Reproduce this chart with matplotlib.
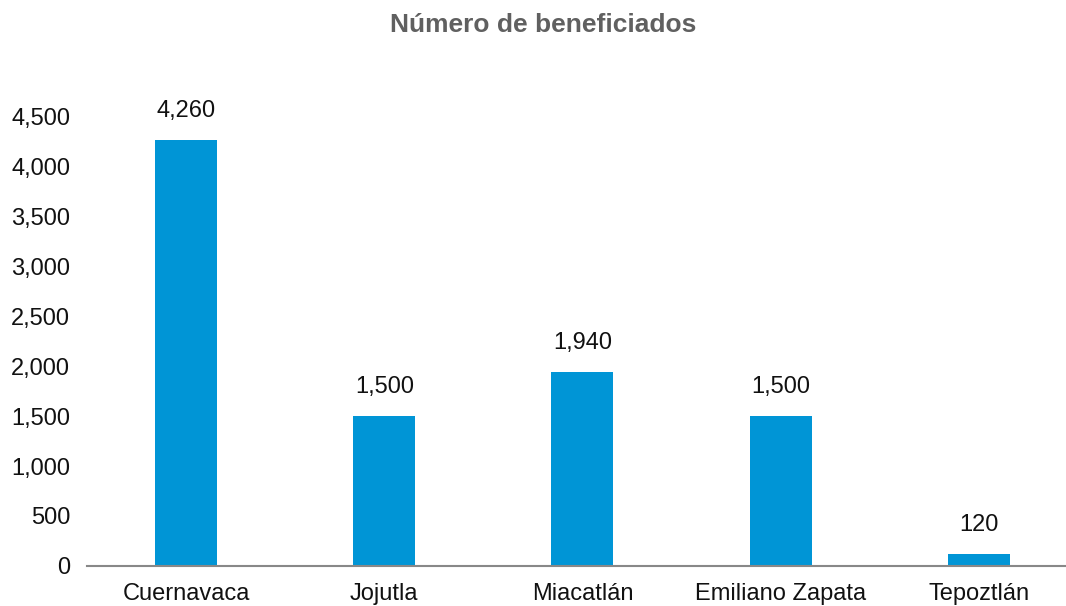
import matplotlib
matplotlib.use("Agg")
import matplotlib.pyplot as plt
from matplotlib.ticker import FuncFormatter

municipios = ["Cuernavaca", "Jojutla", "Miacatlán", "Emiliano Zapata", "Tepoztlán"]
beneficiados = [4260, 1500, 1940, 1500, 120]
yticks = [0, 500, 1000, 1500, 2000, 2500, 3000, 3500, 4000, 4500]

plt.rcParams['font.family'] = ['Liberation Sans', 'DejaVu Sans']

fig = plt.figure(figsize=(10.66, 6.06), dpi=100)
ax = fig.add_axes([87/1066, 1-566/606, (1066-87)/1066, (566-116)/606])

x = range(len(municipios))
bars = ax.bar(x, beneficiados, width=0.313, color="#0095d6")
for b, v in zip(bars, beneficiados):
    ax.annotate(f"{v:,}", (b.get_x() + b.get_width()/2, v), xytext=(0, 13),
                textcoords="offset points", ha="center", va="bottom",
                fontsize=17, color="#111111")

ax.set_xlim(-0.5, 4.44)
ax.set_ylim(0, 4500)
ax.set_yticks(yticks)
ax.yaxis.set_major_formatter(FuncFormatter(lambda v, p: f"{int(v):,}"))
ax.set_xticks(list(x))
ax.set_xticklabels(municipios)
ax.tick_params(axis="both", length=0, labelsize=17, labelcolor="#111111")
ax.tick_params(axis="y", pad=12)
ax.tick_params(axis="x", pad=12)

for s in ["top", "right", "left"]:
    ax.spines[s].set_visible(False)
ax.spines["bottom"].set_color("#888888")
ax.spines["bottom"].set_linewidth(1.5)

fig.text(543/1066, 1-25/606, "Número de beneficiados", ha="center", va="center",
         fontsize=19, fontweight="bold", color="#606060")

fig.savefig("out.png", dpi=100)
